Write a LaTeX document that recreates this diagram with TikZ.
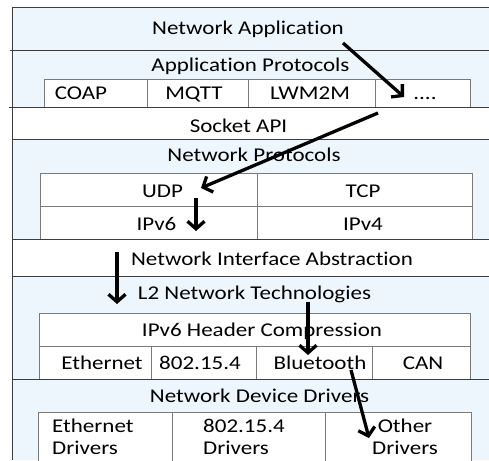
\documentclass[tikz,border=0pt]{standalone}
\usepackage{fontspec}
\setmainfont{Carlito}[FakeStretch=1.18, Ligatures=NoCommon]
\usetikzlibrary{arrows.meta}
\definecolor{layerblue}{HTML}{EEF6FD}
\definecolor{layerline}{HTML}{3C3C3C}
\definecolor{cellline}{HTML}{7A7A7A}
\tikzset{
  lbl/.style={inner sep=0pt, anchor=base, font=\fontsize{19.5}{22}\selectfont},
  lblw/.style={lbl, anchor=base west, align=left},
  layer/.style={fill=layerblue, draw=none},
  plain/.style={fill=white, draw=none},
  sep/.style={draw=layerline, line width=0.9pt},
  cell/.style={draw=cellline, line width=1pt, fill=white},
  flow/.style={line width=3.3pt, black, -{Straight Barb[length=7.5pt,width=17pt,line width=3.3pt]}}
}
\begin{document}
\begin{tikzpicture}[x=1pt,y=-1pt]
\useasboundingbox (0,0) rectangle (489,460);
\fill[white] (0,0) rectangle (489,460);

% stacked layers
\path[layer] (12,7) rectangle (489,107);
\path[plain] (12,107) rectangle (489,139);
\path[layer] (12,139) rectangle (489,239);
\path[plain] (12,239) rectangle (489,276);
\path[layer] (12,276) rectangle (489,460);

% application protocol row
\draw[cell] (44,79) rectangle (470,107);
\draw[cellline, line width=1pt] (147,79) -- (147,107) (248,79) -- (248,107) (375,79) -- (375,107);

% transport / network table
\draw[cell] (40,173) rectangle (472,239);
\draw[cellline, line width=1pt] (40,206) -- (472,206) (257,173) -- (257,239);

% L2 table
\draw[cell] (39,313) rectangle (470,379);
\draw[cellline, line width=1pt] (39,346) -- (470,346)
  (151,346) -- (151,379) (256,346) -- (256,379) (372,346) -- (372,379);

% drivers table
\draw[cell] (38,470) -- (38,412) -- (471,412) -- (471,470);
\draw[cellline, line width=1pt] (172,412) -- (172,470) (325,412) -- (325,470);

% layer separators and outer frame
\draw[sep] (12,7) -- (489,7);
\draw[sep] (10,50) -- (489,50);
\draw[sep] (9,107) -- (489,107);
\draw[sep] (12,139) -- (489,139);
\draw[sep] (12,239) -- (489,239);
\draw[sep] (12,276) -- (489,276);
\draw[sep] (12,379) -- (489,379);
\draw[sep] (12,7) -- (12,460);

% labels
\node[lbl] (napp) at (248,35) {Network Application};
\node[lbl] (aprot) at (250.5,71) {Application Protocols};
\node[lbl] (coap) at (81,99) {COAP};
\node[lbl] (mqtt) at (194,99) {MQTT};
\node[lbl] (lwm2m) at (310,99) {LWM2M};
\node[lbl] (more) at (425,99) {....};
\node[lbl] (sock) at (238.5,132) {Socket API};
\node[lbl] (nprot) at (254,161) {Network Protocols};
\node[lbl] (udp) at (162.5,197) {UDP};
\node[lbl] (tcp) at (363,197) {TCP};
\node[lbl] (ipsix) at (156.5,230) {IPv6};
\node[lbl] (ipfour) at (363,230) {IPv4};
\node[lbl] (nia) at (272,265) {Network Interface Abstraction};
\node[lbl] (ltwo) at (254.5,299) {L2 Network Technologies};
\node[lbl] (hc) at (262,336) {IPv6 Header Compression};
\node[lbl] (eth) at (102,369) {Ethernet};
\node[lbl] (ieee) at (200,369) {802.15.4};
\node[lbl] (bt) at (320,369) {Bluetooth};
\node[lbl] (can) at (423,369) {CAN};
\node[lbl] (ndd) at (259.5,402) {Network Device Drivers};
\node[lblw] (ethdrv) at (52,454) {Ethernet\\Drivers};
\node[lblw] (ieeedrv) at (203,454) {802.15.4\\Drivers};
\node[lbl, align=center] (othdrv) at (405,454) {Other\\Drivers};

% data path through the stack
\coordinate (a0) at (343,43);
\coordinate (a1) at (404,97);
\coordinate (b0) at (378,113);
\coordinate (b1) at (201,188);
\coordinate (c0) at (196,198);
\coordinate (c1) at (196,231);
\coordinate (d0) at (117,252);
\coordinate (d1) at (117,304);
\coordinate (e0) at (308,302);
\coordinate (e1) at (308,355);
\coordinate (f0) at (351,370);
\coordinate (f1) at (369,438);
\draw[flow] (a0) -- (a1);
\draw[flow] (b0) -- (b1);
\draw[flow] (c0) -- (c1);
\draw[flow] (d0) -- (d1);
\draw[flow] (e0) -- (e1);
\draw[flow] (f0) -- (f1);
\end{tikzpicture}
\end{document}
